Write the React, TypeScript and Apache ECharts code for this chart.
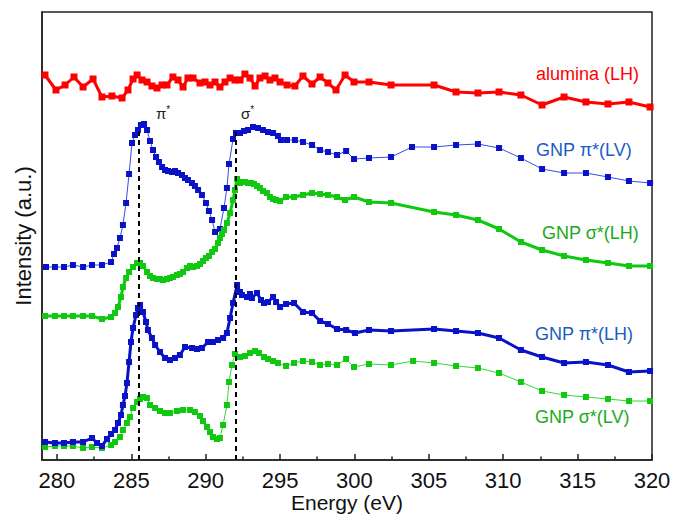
import React, { useEffect, useRef } from 'react';
import * as echarts from 'echarts';

// Energy (eV), Intensity (a.u.)
const aluminaLH: [number, number][] = [
  [279.2, 38.5], [279.94, 37.0], [280.55, 37.5], [281.15, 38.3], [281.76, 37.3], [282.43, 38.1], [283.03, 36.3], [283.7, 36.4],
  [284.38, 36.2], [284.78, 37.0], [285.12, 38.1], [285.39, 38.5], [285.72, 38.0], [286.06, 37.8], [286.39, 37.4], [286.73, 37.2],
  [287.07, 37.5], [287.4, 37.5], [287.8, 38.3], [288.14, 38.0], [288.48, 37.3], [288.81, 38.2], [289.15, 38.2], [289.62, 37.7],
  [289.96, 37.8], [290.29, 37.5], [290.63, 37.8], [290.96, 37.3], [291.3, 37.8], [291.64, 38.2], [291.97, 38.0], [292.31, 38.0],
  [292.64, 38.6], [292.98, 38.2], [293.32, 37.4], [293.65, 38.2], [293.99, 38.4], [294.32, 38.0], [294.66, 38.2], [295.0, 37.8],
  [295.47, 37.5], [296.0, 37.4], [296.54, 38.4], [297.15, 37.6], [297.69, 38.3], [298.22, 37.7], [298.76, 37.0], [299.37, 38.5],
  [299.97, 37.8], [300.98, 37.8], [302.46, 37.5], [305.35, 37.5], [306.83, 36.8], [308.3, 36.7], [309.72, 36.8], [311.19, 36.5],
  [312.61, 35.5], [314.09, 36.3], [315.56, 35.8], [317.04, 35.6], [318.45, 35.8], [319.87, 35.3],
];

const gnpPiLV: [number, number][] = [
  [279.27, 19.3], [279.87, 19.3], [280.48, 19.3], [281.08, 19.5], [281.76, 19.3], [282.36, 19.5], [283.03, 19.5], [283.64, 19.8],
  [283.84, 20.6], [284.04, 21.2], [284.24, 22.2], [284.44, 23.5], [284.65, 25.7], [284.85, 28.6], [285.05, 31.7], [285.25, 32.5],
  [285.45, 33.0], [285.65, 33.5], [285.86, 33.6], [286.06, 33.0], [286.26, 31.9], [286.46, 31.0], [286.66, 30.3], [286.86, 29.8],
  [287.07, 29.3], [287.27, 29.0], [287.47, 28.9], [287.74, 28.8], [287.94, 28.9], [288.14, 28.7], [288.41, 28.5], [288.61, 28.2],
  [288.81, 28.0], [289.08, 27.7], [289.28, 27.4], [289.49, 27.0], [289.75, 26.5], [290.02, 25.7], [290.22, 24.9], [290.43, 24.0],
  [290.63, 22.8], [290.96, 23.1], [291.23, 25.2], [291.43, 27.2], [291.57, 29.6], [291.84, 32.1], [292.04, 32.7], [292.31, 32.7],
  [292.58, 32.9], [292.85, 33.0], [293.18, 33.3], [293.52, 33.2], [293.85, 33.0], [294.19, 32.8], [294.53, 32.7], [294.86, 32.4],
  [295.06, 32.0], [295.47, 32.0], [296.0, 32.0], [296.54, 31.8], [297.15, 31.5], [297.69, 31.0], [298.22, 30.8], [298.83, 30.5],
  [299.44, 30.9], [299.97, 30.1], [300.98, 30.2], [302.46, 30.3], [303.87, 31.3], [305.35, 31.3], [306.83, 31.5], [308.3, 31.6],
  [309.72, 31.2], [311.19, 30.2], [312.61, 29.1], [314.09, 28.7], [315.56, 28.7], [317.04, 28.3], [318.45, 27.9], [319.87, 27.7],
];

const gnpSigmaLH: [number, number][] = [
  [279.2, 14.4], [279.87, 14.4], [280.48, 14.4], [281.08, 14.4], [281.76, 14.4], [282.36, 14.4], [283.03, 14.1], [283.64, 14.3],
  [283.91, 14.7], [284.11, 15.3], [284.31, 16.3], [284.44, 17.3], [284.65, 18.2], [284.85, 18.8], [285.12, 19.3], [285.39, 19.7],
  [285.59, 19.7], [285.79, 19.4], [286.06, 18.8], [286.26, 18.4], [286.46, 18.2], [286.73, 18.1], [286.93, 18.1], [287.13, 18.0],
  [287.4, 18.1], [287.6, 18.2], [287.8, 18.3], [288.07, 18.5], [288.27, 18.6], [288.48, 18.8], [288.75, 19.2], [288.95, 19.4],
  [289.15, 19.3], [289.42, 19.4], [289.62, 19.6], [289.82, 19.9], [290.02, 20.2], [290.22, 20.4], [290.43, 20.8], [290.63, 21.1],
  [290.83, 21.7], [290.96, 22.2], [291.1, 22.6], [291.23, 23.0], [291.43, 23.7], [291.64, 24.7], [291.84, 26.0], [291.97, 27.0],
  [292.11, 28.1], [292.31, 27.7], [292.44, 27.8], [292.64, 27.8], [292.85, 27.7], [293.05, 27.7], [293.25, 27.6], [293.45, 27.4],
  [293.65, 27.2], [293.85, 26.9], [294.12, 26.7], [294.32, 26.3], [294.53, 26.1], [294.73, 26.0], [295.0, 25.9], [295.4, 26.3],
  [295.94, 26.3], [296.54, 26.5], [297.15, 26.7], [297.69, 26.6], [298.22, 26.5], [298.83, 26.3], [299.37, 26.0], [299.97, 26.3],
  [300.98, 25.8], [302.46, 25.7], [305.35, 24.8], [306.83, 24.5], [308.3, 24.0], [309.72, 23.1], [311.19, 21.8], [312.61, 21.0],
  [314.09, 20.4], [315.56, 20.0], [317.04, 19.7], [318.45, 19.4], [319.87, 19.4],
];

const gnpPiLH: [number, number][] = [
  [279.2, 1.8], [279.87, 1.7], [280.48, 1.7], [281.08, 1.8], [281.76, 1.8], [282.36, 2.2], [282.7, 1.7], [283.03, 1.4],
  [283.37, 2.1], [283.64, 2.6], [283.91, 3.0], [284.11, 3.7], [284.31, 4.5], [284.44, 5.5], [284.58, 6.4], [284.71, 7.7],
  [284.85, 9.8], [284.98, 11.8], [285.12, 13.2], [285.32, 14.5], [285.45, 15.2], [285.59, 15.5], [285.79, 14.8], [285.99, 13.8],
  [286.12, 13.0], [286.39, 12.2], [286.6, 11.5], [286.93, 10.8], [287.27, 10.2], [287.6, 10.0], [287.94, 10.2], [288.27, 10.5],
  [288.61, 11.3], [289.08, 11.2], [289.42, 11.1], [289.75, 11.2], [290.16, 11.8], [290.49, 11.8], [290.83, 12.0], [291.17, 12.2],
  [291.43, 12.7], [291.64, 14.2], [291.84, 15.7], [292.11, 17.5], [292.31, 16.8], [292.44, 16.5], [292.78, 16.3], [292.98, 16.6],
  [293.11, 16.2], [293.45, 16.7], [293.72, 16.0], [293.92, 15.7], [294.19, 15.8], [294.53, 16.3], [294.73, 15.8], [295.0, 15.3],
  [295.4, 15.6], [295.94, 15.7], [296.54, 14.8], [297.15, 14.7], [297.69, 13.9], [298.22, 13.6], [298.83, 13.1], [299.44, 13.0],
  [300.04, 12.7], [300.98, 13.0], [302.46, 12.9], [305.35, 13.1], [306.83, 12.9], [308.3, 12.7], [309.72, 12.2], [311.19, 11.0],
  [312.61, 10.3], [314.09, 9.7], [315.56, 9.8], [317.04, 9.5], [318.45, 8.8], [319.87, 8.9],
];

const gnpSigmaLV: [number, number][] = [
  [279.2, 1.3], [279.87, 1.4], [280.48, 1.4], [281.08, 1.4], [281.76, 1.2], [282.36, 1.3], [283.03, 1.2], [283.64, 1.5],
  [283.91, 1.8], [284.24, 2.3], [284.44, 3.0], [284.71, 3.7], [284.91, 4.3], [285.12, 5.2], [285.39, 5.8], [285.59, 6.1],
  [285.79, 6.3], [286.06, 6.2], [286.26, 5.5], [286.6, 5.2], [286.93, 4.9], [287.27, 4.7], [287.6, 4.7], [288.07, 4.9],
  [288.48, 5.0], [288.95, 5.0], [289.28, 4.8], [289.62, 4.4], [289.82, 3.9], [290.09, 3.3], [290.29, 2.8], [290.49, 2.3],
  [290.76, 2.1], [290.96, 2.2], [291.17, 3.5], [291.43, 5.5], [291.57, 7.8], [291.77, 9.5], [291.97, 10.6], [292.31, 10.3],
  [292.64, 10.4], [292.98, 10.7], [293.32, 10.9], [293.58, 10.7], [293.92, 10.3], [294.19, 10.1], [294.53, 9.9], [294.86, 9.7],
  [295.4, 9.4], [295.94, 9.7], [296.54, 9.9], [297.15, 9.8], [297.69, 9.5], [298.22, 9.6], [298.83, 9.5], [299.44, 10.1],
  [299.97, 9.3], [300.98, 9.6], [302.46, 9.5], [303.94, 9.9], [305.35, 9.7], [306.83, 9.4], [308.3, 9.2], [309.72, 8.7],
  [311.19, 7.8], [312.61, 6.9], [314.09, 6.5], [315.56, 6.3], [317.04, 6.1], [318.45, 5.9], [319.87, 5.9],
];

const majorTicks = [280, 285, 290, 295, 300, 305, 310, 315, 320];
const minorTicks = [282.5, 287.5, 292.5, 297.5, 302.5, 307.5, 312.5, 317.5];
const piPeak = 285.5;
const sigmaPeak = 292.0;
const dashTop = 32.8;

export default function App() {
  const ref = useRef<HTMLDivElement>(null);
  useEffect(() => {
    const chart = echarts.init(ref.current!, null, { renderer: 'svg' });
    const font = "'Liberation Sans', Arial, sans-serif";
    const axisColor = '#222';
    const mk = (name: string, data: [number, number][], marker: string, line: string, width: number, size: number, z: number) => ({
      type: 'line',
      name,
      data,
      xAxisIndex: 0,
      symbol: 'rect',
      symbolSize: size,
      showSymbol: true,
      showAllSymbol: true,
      lineStyle: { color: line, width },
      itemStyle: { color: marker },
      z,
    });
    const blueLH: any = mk('GNP π*(LH)', gnpPiLH, '#0a12c8', '#0a12c8', 3, 6, 4);
    blueLH.markLine = {
      silent: true,
      symbol: ['none', 'none'],
      label: { show: false },
      lineStyle: { color: '#000', type: [5, 4], width: 2 },
      data: [
        [{ coord: [piPeak, 0] }, { coord: [piPeak, dashTop] }],
        [{ coord: [sigmaPeak, 0] }, { coord: [sigmaPeak, dashTop] }],
      ],
    };
    const labelFont = { fontSize: 18, fontFamily: font, verticalAlign: 'middle', align: 'left' };
    chart.setOption({
      animation: false,
      backgroundColor: '#fff',
      grid: {
        left: 42, top: 12, width: 610, height: 448, show: true, borderColor: axisColor, borderWidth: 1.5,
        containLabel: false, outerBoundsMode: 'none',
      },
      xAxis: [
        {
          type: 'value', min: 279, max: 320, position: 'bottom',
          axisLine: { show: true, lineStyle: { color: axisColor, width: 1.5 } },
          axisTick: { show: true, inside: true, length: 6, customValues: majorTicks, lineStyle: { color: axisColor, width: 1.5 } },
          axisLabel: { customValues: majorTicks, fontSize: 22, color: '#111', fontFamily: font, margin: 9 },
          splitLine: { show: false },
          name: 'Energy (eV)', nameLocation: 'middle', nameGap: 31, nameMoveOverlap: false,
          nameTextStyle: { fontSize: 21, color: '#111', fontFamily: font, verticalAlign: 'top', lineHeight: 23 },
        },
        {
          type: 'value', min: 279, max: 320, position: 'bottom',
          axisLine: { show: false },
          axisTick: { show: true, inside: true, length: 3.5, customValues: minorTicks, lineStyle: { color: axisColor, width: 1.5 } },
          axisLabel: { show: false },
          splitLine: { show: false },
        },
      ],
      yAxis: {
        type: 'value', min: 0, max: 44.8,
        axisLine: { show: true, lineStyle: { color: axisColor, width: 1.5 } },
        axisTick: { show: false }, axisLabel: { show: false }, splitLine: { show: false },
        name: 'Intensity (a.u.)', nameLocation: 'middle', nameGap: 8,
        nameTextStyle: { fontSize: 22, color: '#111', fontFamily: font },
      },
      series: [
        mk('alumina (LH)', aluminaLH, '#ff0000', '#ff0000', 3, 7, 2),
        mk('GNP π*(LV)', gnpPiLV, '#0a12c8', '#3a4ce6', 1, 6, 3),
        mk('GNP σ*(LH)', gnpSigmaLH, '#10c810', '#10c810', 3, 6, 3),
        blueLH,
        mk('GNP σ*(LV)', gnpSigmaLV, '#10c810', '#33d833', 1, 6, 3),
      ],
      graphic: [
        { type: 'text', x: 536, y: 74, style: { text: 'alumina (LH)', fill: '#ff0000', ...labelFont } },
        { type: 'text', x: 536, y: 150, style: { text: 'GNP π*(LV)', fill: '#1a5cc4', ...labelFont } },
        { type: 'text', x: 542, y: 233, style: { text: 'GNP σ*(LH)', fill: '#1aaa1a', ...labelFont } },
        { type: 'text', x: 535, y: 334, style: { text: 'GNP π*(LH)', fill: '#1a5cc4', ...labelFont } },
        { type: 'text', x: 535, y: 417, style: { text: 'GNP σ*(LV)', fill: '#1aaa1a', ...labelFont } },
        {
          type: 'text', x: 156, y: 113,
          style: {
            text: '{a|π}{b|*}', verticalAlign: 'middle', align: 'left',
            rich: { a: { fontSize: 15, fontFamily: font, fill: '#222', color: '#222' }, b: { fontSize: 10, fontFamily: font, fill: '#222', color: '#222', verticalAlign: 'top', padding: [0, 0, 8, 0] } },
          },
        },
        {
          type: 'text', x: 241, y: 113,
          style: {
            text: '{a|σ}{b|*}', verticalAlign: 'middle', align: 'left',
            rich: { a: { fontSize: 15, fontFamily: font, fill: '#222', color: '#222' }, b: { fontSize: 10, fontFamily: font, fill: '#222', color: '#222', verticalAlign: 'top', padding: [0, 0, 8, 0] } },
          },
        },
      ],
    });
    return () => chart.dispose();
  }, []);
  return <div ref={ref} style={{ position: 'fixed', left: 0, top: 0, width: 673, height: 515, background: '#fff' }} />;
}
